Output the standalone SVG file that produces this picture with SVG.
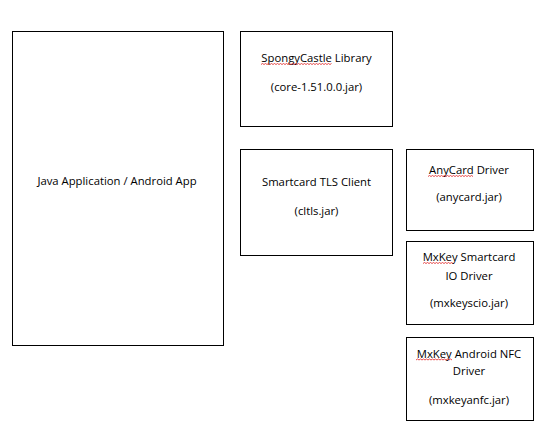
<svg xmlns="http://www.w3.org/2000/svg" width="548" height="441" viewBox="0 0 548 441">
<style>
.box{fill:#fff;stroke:#000;stroke-width:1}
.t{font-family:"Open Sans","Liberation Sans",sans-serif;font-size:11.3px;fill:#000;text-anchor:middle}
.sq{fill:none;stroke:#e02020;stroke-width:0.8}
</style>
<rect width="548" height="441" fill="#fff"/>
<g id="java-app">
<rect class="box" x="12.5" y="31.5" width="211" height="314"/>
<text class="t" x="117" y="185">Java Application / Android App</text>
</g>
<g id="spongycastle">
<rect class="box" x="240.5" y="31.5" width="152" height="95"/>
<text class="t" x="316.5" y="62">SpongyCastle Library</text>
<text class="t" x="316.5" y="91">(core-1.51.0.0.jar)</text>
<path class="sq" d="M261 64.5 l1.5 -1 l1.5 1 l1.5 -1 l1.5 1 l1.5 -1 l1.5 1 l1.5 -1 l1.5 1 l1.5 -1 l1.5 1 l1.5 -1 l1.5 1 l1.5 -1 l1.5 1 l1.5 -1 l1.5 1 l1.5 -1 l1.5 1 l1.5 -1 l1.5 1 l1.5 -1 l1.5 1 l1.5 -1 l1.5 1 l1.5 -1 l1.5 1 l1.5 -1 l1.5 1 l1.5 -1 l1.5 1 l1.5 -1 l1.5 1 l1.5 -1 l1.5 1 l1.5 -1 l1.5 1 l1.5 -1 l1.5 1 l1.5 -1 l1.5 1 l1.5 -1 l1.5 1 l1.5 -1 l1.5 1 l1.5 -1 l1.5 1 l1.5 -1"/>
</g>
<g id="tls-client">
<rect class="box" x="240.5" y="149.5" width="152" height="106"/>
<text class="t" x="316.5" y="186">Smartcard TLS Client</text>
<text class="t" x="316.5" y="215">(cltls.jar)</text>
</g>
<g id="anycard">
<rect class="box" x="406.5" y="149.5" width="127" height="81"/>
<text class="t" x="469" y="173.5">AnyCard Driver</text>
<text class="t" x="469" y="201">(anycard.jar)</text>
<path class="sq" d="M428 176.5 l1.5 -1 l1.5 1 l1.5 -1 l1.5 1 l1.5 -1 l1.5 1 l1.5 -1 l1.5 1 l1.5 -1 l1.5 1 l1.5 -1 l1.5 1 l1.5 -1 l1.5 1 l1.5 -1 l1.5 1 l1.5 -1 l1.5 1 l1.5 -1 l1.5 1 l1.5 -1 l1.5 1 l1.5 -1 l1.5 1 l1.5 -1 l1.5 1 l1.5 -1 l1.5 1 l1.5 -1 l1.5 1"/>
</g>
<g id="mxkey-io">
<rect class="box" x="406.5" y="241.5" width="127" height="83"/>
<text class="t" x="469" y="261">MxKey Smartcard</text>
<text class="t" x="469" y="279.5">IO Driver</text>
<text class="t" x="469" y="307">(mxkeyscio.jar)</text>
<path class="sq" d="M423 263.5 l1.5 -1 l1.5 1 l1.5 -1 l1.5 1 l1.5 -1 l1.5 1 l1.5 -1 l1.5 1 l1.5 -1 l1.5 1 l1.5 -1 l1.5 1 l1.5 -1 l1.5 1 l1.5 -1 l1.5 1 l1.5 -1 l1.5 1 l1.5 -1 l1.5 1"/>
</g>
<g id="mxkey-nfc">
<rect class="box" x="406.5" y="337.5" width="127" height="83"/>
<text class="t" x="469" y="357.5">MxKey Android NFC</text>
<text class="t" x="469" y="375">Driver</text>
<text class="t" x="469" y="403.5">(mxkeyanfc.jar)</text>
<path class="sq" d="M416 360 l1.5 -1 l1.5 1 l1.5 -1 l1.5 1 l1.5 -1 l1.5 1 l1.5 -1 l1.5 1 l1.5 -1 l1.5 1 l1.5 -1 l1.5 1 l1.5 -1 l1.5 1 l1.5 -1 l1.5 1 l1.5 -1 l1.5 1 l1.5 -1 l1.5 1 l1.5 -1 l1.5 1 l1.5 -1 l1.5 1"/>
</g>
<g id="connectors"></g>
</svg>
